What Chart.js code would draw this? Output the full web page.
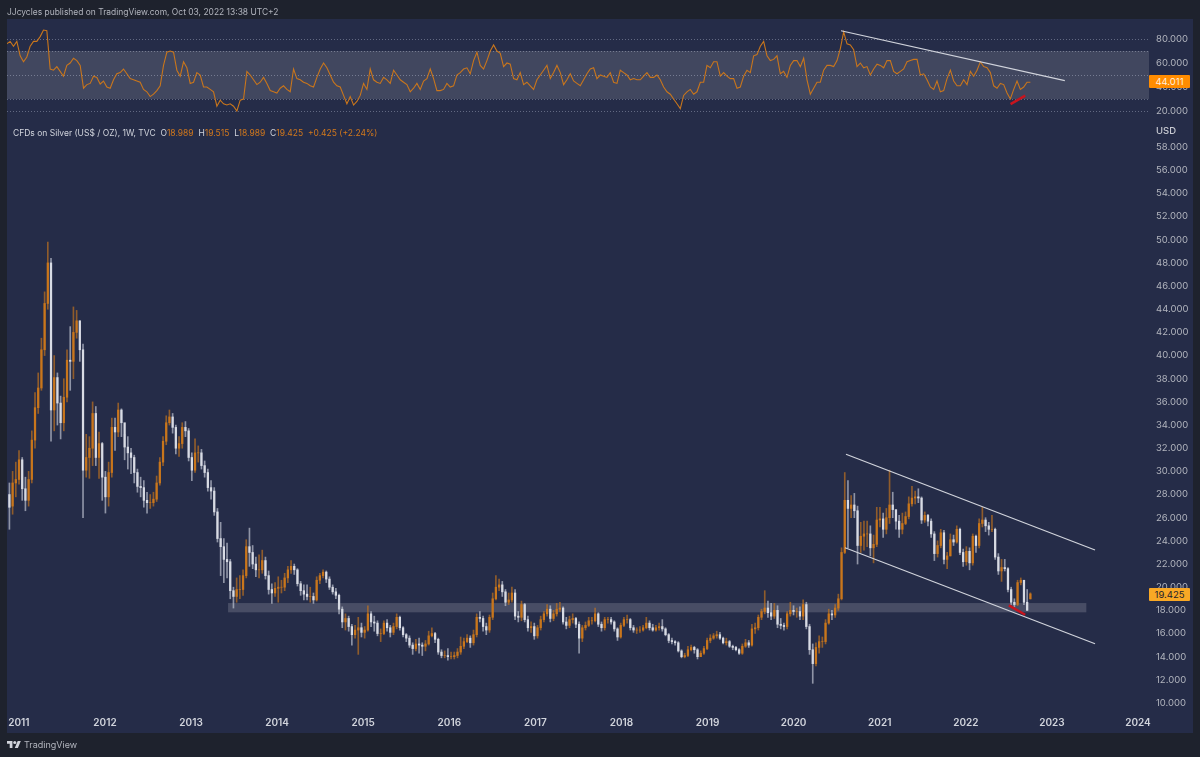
<!DOCTYPE html>
<html>
<head>
<meta charset="utf-8">
<title>Silver weekly</title>
<script src="https://cdn.jsdelivr.net/npm/chart.js@4"></script>
<style>
    html, body { margin: 0; padding: 0; background: #1e222d; }
    body { position: relative; width: 1200px; height: 757px; overflow: hidden; font-family: Inter, "Noto Sans", sans-serif; }
    #pane { position: absolute; left: 7px; top: 19px; width: 1186px; height: 714px; background: #252c48; }
    canvas { position: absolute; left: 0; top: 0; filter: blur(0.35px); }
    .txt { position: absolute; white-space: nowrap; }
    #header { left: 7px; top: 6px; font-size: 8.45px; line-height: 13px; color: #b2b5be; }
    #legend { left: 13px; top: 127px; font-size: 8.5px; line-height: 13px; color: #d1d4dc; }
    #legend span { color: #d2781c; }
    #usd { left: 1156px; top: 124px; font-size: 9.5px; line-height: 13px; font-weight: 500; color: #c8cad2; }
    .tag { left: 1149px; width: 41px; height: 13px; font-size: 9.5px; line-height: 13px; text-align: center; border-radius: 1px; }
    #rsiTag { top: 75px; background: #ff8c00; color: #ffeedd; }
    #priceTag { top: 588px; background: #f9a825; color: #1e222d; }
    #brand { left: 24px; top: 738px; font-size: 9px; line-height: 13px; color: #b2b5be; }
    #logo { position: absolute; left: 7px; top: 740px; }
</style>
</head>
<body>
<div id="pane"></div>
<canvas id="chart" width="1200" height="757"></canvas>
<div class="txt" id="header">JJcycles published on TradingView.com, Oct 03, 2022 13:38 UTC+2</div>
<div class="txt" id="legend">CFDs on Silver (US$ / OZ), 1W, TVC&nbsp; O<span>18.989</span>&nbsp; H<span>19.515</span>&nbsp; L<span>18.989</span>&nbsp; C<span>19.425</span>&nbsp; <span>+0.425 (+2.24%)</span></div>
<div class="txt" id="usd">USD</div>
<div class="txt tag" id="rsiTag">44.011</div>
<div class="txt tag" id="priceTag">19.425</div>
<svg id="logo" width="14" height="9" viewBox="0 4 36 18"><path fill="#d1d4dc" d="M14 22H7V11H0V4h14v18zM28 22h-8l7.5-18h8L28 22z"/><circle fill="#d1d4dc" cx="20" cy="8" r="4"/></svg>
<div class="txt" id="brand">TradingView</div>
<script>
const yearTicks = [2011, 2012, 2013, 2014, 2015, 2016, 2017, 2018, 2019, 2020, 2021, 2022, 2023, 2024];
const priceTicks = [10, 12, 14, 16, 18, 20, 22, 24, 26, 28, 30, 32, 34, 36, 38, 40, 42, 44, 46, 48, 50, 52, 54, 56, 58];
const rsiTicks = [20, 30, 40, 50, 60, 70, 80];
const rsiLabelled = [20, 40, 60, 80];
const rsiGrid = [20, 30, 50, 70, 80];

// candles, about one every two weeks
const firstCandleYear = 2010.89;
const lastCandleYear = 2022.75;

const opens = [
    28,27,29,29.3,31,28.5,27.5,29.3,32.7,35.5,37.2,40.5,44.5,48,35.3,38.1,35.9,34.2,36.4,39.6,
    39.5,42,43,40.5,30.1,31.2,32,35,31.2,32.4,29.5,27.8,29.9,33.8,33.4,35.3,34.2,32.1,31.6,31.2,
    29.9,28.7,28.6,27.5,27.3,27.3,27.6,29,30.8,32.6,34.2,34.7,33.8,32,32.4,33.8,33.5,31.2,30.1,31.6,
    31.6,30.5,29.9,28.6,28.3,26.5,24.2,23.5,22.4,22.2,19.7,19.2,19.8,19.8,21,23.5,23,22,21.5,21.5,
    22.3,21,19.8,19.5,19.9,20,20,20.8,21.5,21.8,21.5,20.3,19.7,19.4,19.2,19.2,18.9,20.6,21,21.3,
    20.7,20,19.6,19.3,18.1,17,17.3,16.6,15.9,16.3,16.5,16.1,16.3,17.7,17,16.9,16,16,16.9,16.5,
    16.1,16.6,17.4,16.5,15.9,15.6,15,14.7,15.1,15,14.9,15.1,15.8,16,15.5,14.4,14.1,14.1,14,14,
    14.1,14.4,14.9,15.3,15.6,15.2,15.9,17.4,17.3,16.6,16.3,17.4,19,20,20.2,19.6,18.7,18.9,19.5,17.5,
    17.4,18.5,17.2,16.5,16.6,15.8,16.5,17.2,17.7,18.1,17.3,17.7,18.1,18.2,17,16.7,17.2,17.3,16.8,15.6,
    16.5,16.7,17.1,17.1,17.7,16.8,16.5,17.2,17.2,17,16.4,15.7,16.7,17.2,17.2,16.5,16.3,16.3,16.3,16.5,
    16.9,16.5,16.3,16.5,16.6,16.4,15.9,15.4,15.3,15.2,14.5,14,14.1,14.6,14.8,14.6,14,14.3,14.7,15.4,
    15.6,15.8,15.9,15.6,15.2,15.3,14.9,14.8,14.6,14.3,14.9,15.2,15,16.4,16.5,17.4,17.9,18.2,17.8,17.5,
    18,16.8,16.7,16.6,17.7,18,17.9,17.9,17.5,18.5,16.6,14.6,13.4,14.8,15.3,15.3,16.9,17.7,17.6,18.2,
    19,23,27.5,26.8,27.1,26.6,23.6,24.4,24.6,24.6,23.4,23.7,25.8,25.9,25,26,27.1,26.7,25.7,25,
    25.5,26.1,27.2,27.7,27.8,27.7,25.8,26.2,25.7,24.6,22.9,23.6,24.7,22.4,22.7,24.1,23.9,25,23,22.2,
    23.1,22.1,24.4,23.6,25.5,25.8,25.3,25,25,22.6,21.4,21.7,21.6,19.8,18.7,18.5,20.4,20.6,18.7,18.989
];
const highs = [
    29,30,30.8,31.8,31.2,29.5,30,33.5,36.8,38.5,41.5,45.5,49.8,48.4,40,38.5,36.5,38,40.5,42.5,
    44.2,43.9,43,41,33.2,33,36,35.6,33.4,32.5,30,30.8,34.6,34.6,35.9,35.4,33.2,33,32,31.4,
    30.2,29.5,29.2,28.2,28,28.2,29.6,31.2,33,34.8,35.3,35,34,33,34.2,34.3,33.7,31.6,32.8,32.2,
    31.9,30.9,30.2,29.2,28.6,26.8,25.6,24.2,23.8,22.4,20,20.8,21,21.5,24.1,25.1,23.6,22.6,22.8,23.2,
    22.6,21.4,20.3,20.4,20.9,20.6,21.2,21.8,22.3,22,21.6,20.5,20.2,20.2,20,19.5,20.9,21.2,21.5,21.4,
    20.9,20.2,19.9,19.4,18.3,17.7,17.5,16.8,16.7,17.4,16.9,16.6,18.4,17.9,17.5,17.1,16.4,17.1,17.2,16.7,
    16.9,17.7,17.5,16.6,16,15.8,15.2,15.5,15.6,15.2,15.4,16.2,16.5,16.1,15.6,14.6,14.5,14.7,14.4,14.4,
    14.7,15.7,15.6,15.9,15.8,16.3,17.7,17.9,17.5,16.9,17.6,19.5,21,20.7,20.5,19.8,19.5,20,19.8,17.9,
    18.8,18.6,17.5,17,16.9,16.7,17.5,17.9,18.5,18.4,18,18.6,18.7,18.3,17.4,17.5,17.7,17.4,17,16.7,
    17,17.4,17.4,18.2,17.8,17,17.4,17.4,17.4,17.1,16.5,16.9,17.4,17.6,17.3,16.7,16.5,16.6,16.7,17.4,
    17.1,16.8,16.7,16.9,17.2,16.5,16,15.6,15.4,15.3,14.6,14.3,14.9,15,14.9,14.7,14.5,14.9,15.6,15.9,
    16,16.2,16.1,15.7,15.6,15.4,15,14.9,14.7,15.1,15.5,15.4,16.8,16.9,17.6,18.1,19.7,18.8,18.6,18.6,
    18.4,17.3,16.9,17.9,18.7,18.4,18.2,18.3,18.9,18.7,16.8,15.1,15.2,15.8,15.7,17.2,18.1,18,18.5,19.4,
    23.4,29.9,29.2,27.9,28.1,27,25.6,25.7,25.7,25.3,24.5,26.9,26.9,26.4,26.8,30.1,28.2,26.5,26.2,26.4,
    26.5,27.8,28.7,28.3,28.5,27.8,26.5,26.3,25.9,24.8,24,25,24.9,23,24.6,24.5,25.3,25.1,23.3,23.5,
    23.4,24.6,24.5,25.9,26.9,26,25.6,26.2,25.1,22.9,22.4,22.4,21.7,20,19,20.6,20.8,20.6,19.8,19.515
];
const lows = [
    25,26.3,27.8,28.9,27.5,26.6,27,29,32,35,37,40,44,32.6,33.5,34,32.8,33.5,36,37,
    38,41.5,39.5,26,29.5,29.4,30.5,30.5,29.4,27.5,26.4,27,29.5,31.8,33,33,31,30.2,29.8,29,
    28.2,27.8,26.9,26.4,26.8,27,27.4,28.8,30.5,32.3,34,33.3,31.5,31.3,32,33,30.9,29.2,29.9,30.8,
    30.2,29.5,28.3,27.6,26.2,23.9,21,20.4,20.8,19,18.2,18.7,19,19.3,20.8,21.8,21.6,20.9,20.8,21.2,
    20.7,19.4,18.6,19.2,18.7,19.5,19.7,20.4,21.2,21.1,20.1,19.3,18.9,18.9,18.7,18.6,18.8,20.3,20.8,20.4,
    19.8,19.4,19,17.7,16.5,16.3,16.2,15,15.6,14.2,15.7,15.6,16.2,16.6,16.2,15.8,15.3,15.9,16.2,15.7,
    15.9,16.4,16.3,15.7,15.3,14.8,14.2,14.5,14.3,14.1,14.5,15,15.7,15.2,14.2,13.9,13.9,13.7,13.8,13.8,
    13.9,14.2,14.7,15.2,14.8,15,15.7,17,16.2,15.9,16.1,17.2,18.9,19.7,19.2,18.4,18.5,18.7,17.2,17,
    17.1,17,16.2,16.1,15.5,15.6,16.3,17,17.5,17,17.1,17.5,17.9,16.8,16.4,16.5,16.9,16.5,14.3,15.3,
    16.3,16.6,16.8,17,16.6,16.2,16.3,16.9,16.8,16.2,15.4,15.6,16.6,16.9,16.3,16.1,16,16.1,16.2,16.4,
    16.3,16.2,16.2,16.3,16.2,15.8,15.2,15.1,15,14.4,13.9,13.9,14,14.5,14.3,13.8,14,14.2,14.6,15.2,
    15.5,15.6,15.5,15.1,15,14.8,14.6,14.5,14.2,14.2,14.8,14.8,14.9,16,16.3,17.2,17.7,17.4,17.2,17.3,
    16.5,16.4,16.3,16.4,17.5,17.6,17.4,17.2,17.2,16.4,14.2,11.7,13.2,14.3,14.8,15.1,16.8,17.2,17.4,18,
    18.9,22.9,23.4,26,26,22,23,23.2,23.5,22.7,22.1,23.5,25.2,24.3,24.6,25.5,26,25,24.3,24.6,
    25.4,25.9,27,27.2,27.3,25.5,25.6,25.3,24.3,22.3,22.6,23.4,22,21.6,22.7,23.6,23.8,22.8,21.8,21.9,
    21.5,21.9,23,23.4,25.2,24.8,24.5,24.8,22.4,21.1,20.5,21.4,19.6,18.5,18.3,18.4,20.2,18.5,18,18.989
];
const closes = [
    26.9,29,29.3,31,28.5,27.5,29.3,32.7,35.5,37.2,40.5,44.5,48,35.3,38.1,35.9,34.2,36.4,39.6,39.5,
    42,43,40.5,30.1,31.2,32,35,31.2,32.4,29.5,27.8,29.9,33.8,33.4,35.3,34.2,32.1,31.6,31.2,29.9,
    28.7,28.6,27.5,27.3,27.3,27.6,29,30.8,32.6,34.2,34.7,33.8,32,32.4,33.8,33.5,31.2,30.1,31.6,31.6,
    30.5,29.9,28.6,28.3,26.5,24.2,23.5,22.4,22.2,19.7,19.2,19.8,19.8,21,23.5,23,22,21.5,21.5,22.3,
    21,19.8,19.5,19.9,20,20,20.8,21.5,21.8,21.5,20.3,19.7,19.4,19.2,19.2,18.9,20.6,21,21.3,20.7,
    20,19.6,19.3,18.1,17,17.3,16.6,15.9,16.3,16.5,16.1,16.3,17.7,17,16.9,16,16,16.9,16.5,16.1,
    16.6,17.4,16.5,15.9,15.6,15,14.7,15.1,15,14.9,15.1,15.8,16,15.5,14.4,14.1,14.1,14,14,14.1,
    14.4,14.9,15.3,15.6,15.2,15.9,17.4,17.3,16.6,16.3,17.4,19,20,20.2,19.6,18.7,18.9,19.5,17.5,17.4,
    18.5,17.2,16.5,16.6,15.8,16.5,17.2,17.7,18.1,17.3,17.7,18.1,18.2,17,16.7,17.2,17.3,16.8,15.6,16.5,
    16.7,17.1,17.1,17.7,16.8,16.5,17.2,17.2,17,16.4,15.7,16.7,17.2,17.2,16.5,16.3,16.3,16.3,16.5,16.9,
    16.5,16.3,16.5,16.6,16.4,15.9,15.4,15.3,15.2,14.5,14,14.1,14.6,14.8,14.6,14,14.3,14.7,15.4,15.6,
    15.8,15.9,15.6,15.2,15.3,14.9,14.8,14.6,14.3,14.9,15.2,15,16.4,16.5,17.4,17.9,18.2,17.8,17.5,18,
    16.8,16.7,16.6,17.7,18,17.9,17.9,17.5,18.5,16.6,14.6,13.4,14.8,15.3,15.3,16.9,17.7,17.6,18.2,19,
    23,27.5,26.8,27.1,26.6,23.6,24.4,24.6,24.6,23.4,23.7,25.8,25.9,25,26,27.1,26.7,25.7,25,25.5,
    26.1,27.2,27.7,27.8,27.7,25.8,26.2,25.7,24.6,22.9,23.6,24.7,22.4,22.7,24.1,23.9,25,23,22.2,23.1,
    22.1,24.4,23.6,25.5,25.8,25.3,25,25,22.6,21.4,21.7,21.6,19.8,18.7,18.5,20.4,20.6,18.7,18,19.425
];

const firstRsiYear = 2010.86;
const lastRsiYear = 2022.75;
const rsiValues = [
    76,78,74,78,66,61,65,74,78,78,82,87.5,87,55,54,57,53,49,58,60,64,62,58,39,42,43,49,48,42.5,45,
    40,39,46,51,52,55,51,47,46,45,44,38,36,32,34,37,41,58,69,70,69,54,49,61,56,43,44,52,50,40,
    40,38,36,24,29,26,25,26,24,20,29,30,53,50,46,42,44,48,43,37,36,35,39,41,38,36,55,47,46,44,
    43,41,40,48,55,60,56,50,44,41,40,33,26,32,25,28,33,43,38,55,46,44,43,48,46,43,54,50,
    46,44,42,36,39,43,38,45,47,55,47,37,37,38,43,40,41,50,52,55,56,51,62,69,58,55,62,70,75,70,
    68,57,60,59,47,46,52,42,44,41,38,46,50,54,58,47,52,58,52,42,46,51,45,43,41,46,51,55,56,47,
    50,49,48,52,44,43,54,52,50,46,47,46,46,49,52,48,48,50,46,40,36,34,30,26,22,33,36,38,34,36,
    44,44,58,56,61,61,49,52,49,47,47,39,40,49,54,52,66,67,74,78,66,62,63,66,51,53,48,58,62,62,
    57,64,46,34,39,44,44,54,58,58,57,62,72,86,76,75,71,57,60,56,57,50,55,59,58,56,62,62,53,51,
    53,55,61,62,63,63,50,51,46,40,38,45,36,37,47,54,45,41,41,46,42,53,49,54,61,57,56,52,41,39,
    43,42,35,30,38,45,38,40,44,44
];

// drawn lines, [year, value] at both ends
const channelTop = [[2020.608, 31.48], [2023.501, 23.21]];
const channelBottom = [[2020.597, 23.41], [2023.501, 15.12]];
const priceMark = [[2022.5, 18.43], [2022.69, 17.62]];
const rsiTrend = [[2020.55, 86.9], [2023.15, 45.25]];
const rsiMark = [[2022.52, 25.8], [2022.69, 32.75]];

const rsiBand = [30, 70];
const supportYears = [2013.43, 2023.4];
const supportPrices = [17.83, 18.63];

const UP = "#c9761c";
const DOWN = "#d8dbe4";
const UP_WICK = "rgba(201,118,28,0.65)";
const DOWN_WICK = "rgba(200,204,216,0.65)";
const LABEL = "#b2b5be";

function toPoints(line) {
    return line.map(p => ({ x: p[0], y: p[1] }));
}

const candleStep = (lastCandleYear - firstCandleYear) / (closes.length - 1);
const candleYears = closes.map((_, i) => firstCandleYear + i * candleStep);
const rsiStep = (lastRsiYear - firstRsiYear) / (rsiValues.length - 1);

const wickData = candleYears.map((x, i) => ({ x: x, y: [lows[i], highs[i]] }));
const bodyData = candleYears.map((x, i) => ({ x: x, y: [opens[i], closes[i]] }));
const wickColors = closes.map((c, i) => c >= opens[i] ? UP_WICK : DOWN_WICK);
const bodyColors = closes.map((c, i) => c >= opens[i] ? UP : DOWN);
const rsiData = rsiValues.map((v, i) => ({ x: firstRsiYear + i * rsiStep, y: v }));

function lineSet(line, color, width, yAxis, order) {
    return {
        type: "line",
        data: toPoints(line),
        borderColor: color,
        borderWidth: width,
        pointRadius: 0,
        yAxisID: yAxis,
        order: order
    };
}

// shaded zones go under the candles, through the same scales
const zones = {
    id: "zones",
    beforeDatasetsDraw(chart) {
        const ctx = chart.ctx;
        const x = chart.scales.x;
        const rsi = chart.scales.yRsi;
        const price = chart.scales.yPrice;
        const area = chart.chartArea;
        ctx.save();
        ctx.fillStyle = "rgba(255,255,255,0.13)";
        const bandTop = rsi.getPixelForValue(rsiBand[1]);
        ctx.fillRect(area.left, bandTop, area.right - area.left, rsi.getPixelForValue(rsiBand[0]) - bandTop);
        ctx.fillStyle = "rgba(255,255,255,0.16)";
        const zoneLeft = x.getPixelForValue(supportYears[0]);
        const zoneTop = price.getPixelForValue(supportPrices[1]);
        ctx.fillRect(zoneLeft, zoneTop, x.getPixelForValue(supportYears[1]) - zoneLeft, price.getPixelForValue(supportPrices[0]) - zoneTop);
        ctx.restore();
    }
};

new Chart(document.getElementById("chart"), {
    type: "bar",
    data: {
        datasets: [
            lineSet(rsiTrend, "#d1d4dc", 1.2, "yRsi", 1),
            lineSet(rsiMark, "#c8141e", 2.5, "yRsi", 1),
            lineSet(channelTop, "#d1d4dc", 1.2, "yPrice", 1),
            lineSet(channelBottom, "#d1d4dc", 1.2, "yPrice", 1),
            lineSet(priceMark, "#c8141e", 2.5, "yPrice", 1),
            {
                type: "line",
                data: rsiData,
                borderColor: UP,
                borderWidth: 1.1,
                pointRadius: 0,
                yAxisID: "yRsi",
                order: 2
            },
            {
                data: bodyData,
                backgroundColor: bodyColors,
                barThickness: 1.6,
                grouped: false,
                yAxisID: "yPrice",
                order: 3
            },
            {
                data: wickData,
                backgroundColor: wickColors,
                barThickness: 1,
                grouped: false,
                yAxisID: "yPrice",
                order: 4
            }
        ]
    },
    plugins: [zones],
    options: {
        responsive: false,
        animation: false,
        layout: { padding: { left: 7, top: 19, right: 7, bottom: 24 } },
        plugins: { legend: { display: false }, tooltip: { enabled: false } },
        scales: {
            x: {
                type: "linear",
                offset: false,
                min: 2010.862,
                max: 2024.128,
                grid: { display: false, drawTicks: false, offset: false },
                border: { display: false },
                afterFit(axis) { axis.height = 22; },
                afterBuildTicks(axis) { axis.ticks = yearTicks.map(v => ({ value: v })); },
                ticks: {
                    autoSkip: false,
                    maxRotation: 0,
                    padding: 6,
                    color: "#d1d4dc",
                    font: { family: "Inter", size: 10, weight: "600" },
                    callback: v => String(v)
                }
            },
            yRsi: {
                position: "right",
                stack: "panes",
                stackWeight: 101,
                min: 12.5,
                max: 96.67,
                border: { display: false, dash: [1, 2] },
                grid: {
                    drawTicks: false,
                    lineWidth: 1,
                    color: ctx => rsiGrid.includes(ctx.tick.value) ? "rgba(150,156,178,0.55)" : "rgba(0,0,0,0)"
                },
                afterFit(axis) { axis.width = 44; },
                afterBuildTicks(axis) { axis.ticks = rsiTicks.map(v => ({ value: v })); },
                ticks: {
                    autoSkip: false,
                    padding: 7,
                    color: LABEL,
                    font: { family: "Inter", size: 9.5 },
                    callback: v => rsiLabelled.includes(v) ? v.toFixed(3) : ""
                }
            },
            yPrice: {
                position: "right",
                stack: "panes",
                stackWeight: 591,
                min: 9.31,
                max: 60.34,
                border: { display: false },
                grid: { display: false, drawTicks: false },
                afterFit(axis) { axis.width = 44; },
                afterBuildTicks(axis) { axis.ticks = priceTicks.map(v => ({ value: v })); },
                ticks: {
                    autoSkip: false,
                    padding: 7,
                    color: LABEL,
                    font: { family: "Inter", size: 9.5 },
                    callback: v => v.toFixed(3)
                }
            }
        }
    }
});
</script>
</body>
</html>
